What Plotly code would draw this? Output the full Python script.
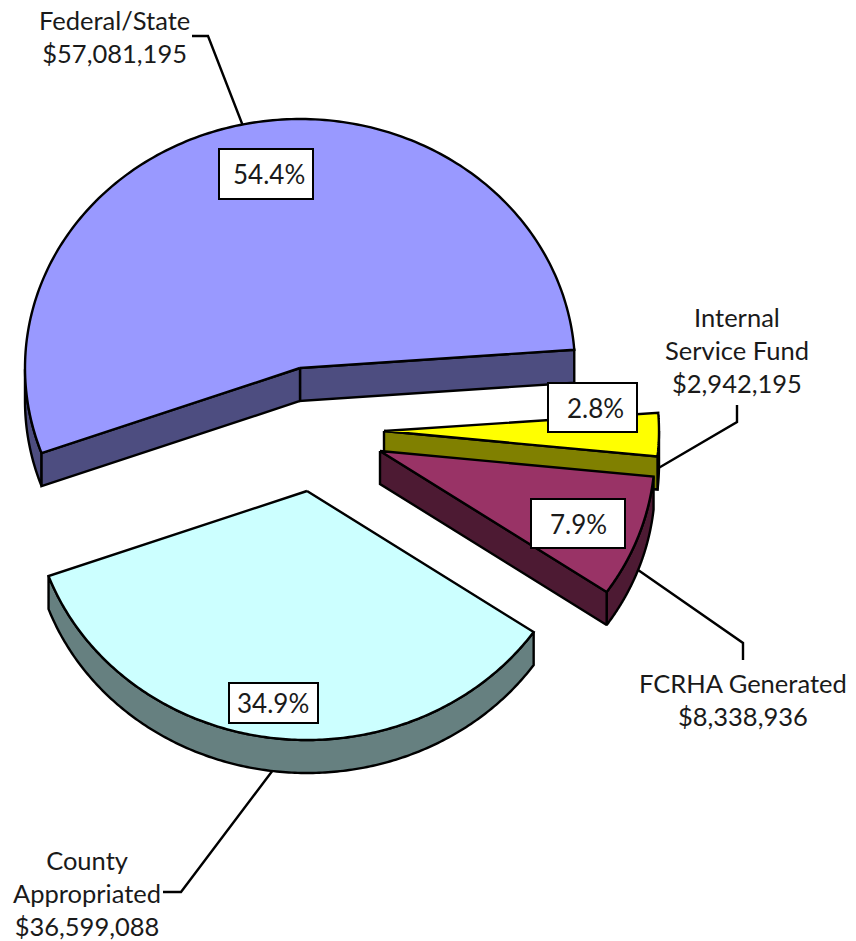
import numpy as np
import plotly.graph_objects as go

# ---- data ----
names = ["Federal/State", "County<br>Appropriated", "FCRHA Generated", "Internal<br>Service Fund"]
amounts = [57081195, 36599088, 8338936, 2942195]
shares = ["54.4%", "34.9%", "7.9%", "2.8%"]
top_colors = ["#9999FF", "#CCFFFF", "#993366", "#FFFF00"]
wall_colors = ["#4D4D80", "#668080", "#4D1A33", "#808000"]

# ---- geometry of the exploded pie (page pixels) ----
START = 4.2
RX, RY, DEPTH = 275, 249, 33
apex_x = [300, 307, 380, 384]
apex_y = [368, 491, 451, 431]
# leader elbow and end, label centre, share-box centre and size, share-text centre
elbow = [(208, 36), (181, 892), (743, 643), (737, 422)]
lead_end = [(192, 36), (163, 892), (743, 660), (737, 405)]
label_xy = [(114, 36.5), (86.5, 893), (743, 699), (737, 350)]
box_xy = [(266, 174), (273.5, 703), (578, 523.5), (592.5, 407.5)]
box_wh = [(94, 50), (89, 40), (94, 49), (89, 49)]
share_xy = [(269, 174), (273, 703), (578.5, 523.5), (595, 407.5)]
FONT = "Lato"
LABEL_SIZE = 25.5
SHARE_SIZE = 26
LW = 2.4

total = sum(amounts)
spans = [a / total * 360 for a in amounts]
starts = list(START + np.cumsum([0] + spans[:-1]))


def rim(i, t):
    t = np.radians(t)
    return apex_x[i] + RX * np.cos(t), apex_y[i] - RY * np.sin(t)


fig = go.Figure()


def poly(xs, ys, fill=None):
    fig.add_trace(go.Scatter(
        x=list(xs), y=list(ys), mode="lines", hoverinfo="skip", showlegend=False,
        fill="toself" if fill else "none", fillcolor=fill,
        line=dict(color="black", width=LW, simplify=False)))


# leader lines: from the middle of each slice's rim to the label
for i in range(4):
    mid = starts[i] + spans[i] / 2
    lx, ly = rim(i, mid)
    if np.sin(np.radians(mid)) < 0.02:
        ly += DEPTH
    poly([lx, elbow[i][0], lead_end[i][0]], [ly, elbow[i][1], lead_end[i][1]])

for i in [0, 1, 3, 2]:
    s, e = starts[i], starts[i] + spans[i]
    ts = np.linspace(s, e, 200)
    rx, ry = rim(i, ts)
    ax, ay = apex_x[i], apex_y[i]
    # outer wall: only the part of the rim that faces the viewer
    front = np.sin(np.radians(ts)) <= 0
    if front.any():
        fx, fy = rx[front], ry[front]
        poly(np.r_[fx, fx[::-1], fx[0]], np.r_[fy, fy[::-1] + DEPTH, fy[0]], wall_colors[i])
    # radial walls: only those whose outward side points down the page
    for t, normal in ((s, s - 90), (e, e + 90)):
        if np.sin(np.radians(normal)) < 0:
            px, py = rim(i, t)
            poly([ax, px, px, ax, ax], [ay, py, py + DEPTH, ay + DEPTH, ay], wall_colors[i])
    # top face
    poly(np.r_[ax, rx, ax], np.r_[ay, ry, ay], top_colors[i])

for i in range(4):
    fig.add_annotation(
        x=label_xy[i][0], y=label_xy[i][1], xref="x", yref="y",
        text=f"{names[i]}<br>${amounts[i]:,}", showarrow=False, align="center",
        font=dict(family=FONT, size=LABEL_SIZE, color="#1a1a1a"))
    w, h = box_wh[i]
    fig.add_shape(type="rect", xref="x", yref="y",
                  x0=box_xy[i][0] - w / 2, x1=box_xy[i][0] + w / 2,
                  y0=box_xy[i][1] - h / 2, y1=box_xy[i][1] + h / 2,
                  fillcolor="white", line=dict(color="black", width=2))
    fig.add_annotation(
        x=share_xy[i][0], y=share_xy[i][1], xref="x", yref="y", text=shares[i],
        showarrow=False, font=dict(family=FONT, size=SHARE_SIZE, color="#1a1a1a"))

fig.update_layout(
    width=856, height=941, margin=dict(l=0, r=0, t=0, b=0),
    paper_bgcolor="white", plot_bgcolor="white", showlegend=False,
    xaxis=dict(range=[0, 856], visible=False, fixedrange=True),
    yaxis=dict(range=[941, 0], visible=False, fixedrange=True),
)
fig.write_html("out.html", config={"displayModeBar": False},
               post_script="document.body.style.margin='0';document.body.style.overflow='hidden';")
